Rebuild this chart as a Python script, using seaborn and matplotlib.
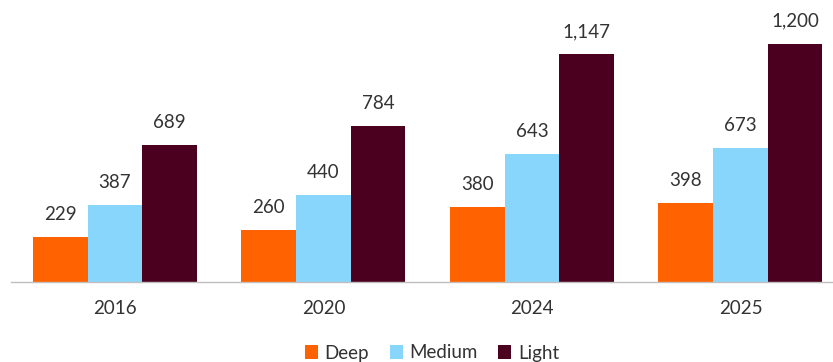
import matplotlib
matplotlib.use("Agg")
import matplotlib.pyplot as plt
import seaborn as sns
import pandas as pd
from matplotlib.patches import Patch

years = ["2016", "2020", "2024", "2025"]
series = ["Deep", "Medium", "Light"]
deep = [229, 260, 380, 398]
medium = [387, 440, 643, 673]
light = [689, 784, 1147, 1200]
colors = ["#FF6200", "#89D6FD", "#4B0020"]

rows = []
for name, vals in zip(series, [deep, medium, light]):
    for y, v in zip(years, vals):
        rows.append({"year": y, "type": name, "value": v})
df = pd.DataFrame(rows)

sns.set_style("white")
plt.rcParams["font.family"] = ["Lato", "DejaVu Sans"]
text_color = "#333333"

fig = plt.figure(figsize=(8.33, 3.62), dpi=100)
W, H = 833, 362
ax = fig.add_axes([10.7 / W, 80 / H, 834 / W, 278 / H])

sns.barplot(data=df, x="year", y="value", hue="type", order=years,
            hue_order=series, palette=colors, width=0.787, ax=ax,
            legend=False, saturation=1, edgecolor="none", linewidth=0)

for cont in ax.containers:
    ax.bar_label(cont, labels=[f"{v:,.0f}" for v in cont.datavalues],
                 padding=10, fontsize=13.5, color=text_color)

ax.set_xlim(-0.5, 3.5)
ax.set_ylim(0, 1400)
ax.set_xlabel("")
ax.set_ylabel("")
ax.set_yticks([])
for s in ["top", "right", "left"]:
    ax.spines[s].set_visible(False)
ax.spines["bottom"].set_color("#BFBFBF")
ax.spines["bottom"].set_linewidth(1)
ax.set_xticks(range(4))
ax.set_xticklabels(years)
ax.tick_params(axis="x", which="major", length=0, pad=13, labelsize=13.5,
               labelcolor=text_color)
ax.set_xticks([-0.5, 0.5, 1.5, 2.5, 3.5], minor=True)
ax.tick_params(axis="x", which="minor", length=5, width=1, color="#BFBFBF",
               direction="out")

handles = [Patch(facecolor=c, edgecolor="none", label=s) for c, s in zip(colors, series)]
fig.legend(handles=handles, loc="center", bbox_to_anchor=(432 / W, 9 / H),
           ncol=3, frameon=False, fontsize=13.5, handlelength=0.7,
           handleheight=0.7, handletextpad=0.35, columnspacing=1.1,
           labelcolor=text_color)

fig.savefig("out.png", dpi=100)
